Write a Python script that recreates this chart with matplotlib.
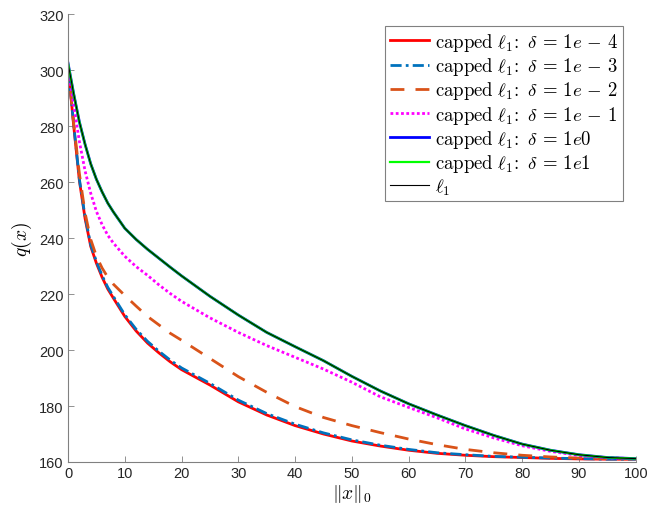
import matplotlib
matplotlib.use("Agg")
import matplotlib.pyplot as plt

plt.rcParams['mathtext.fontset'] = 'cm'
plt.rcParams['font.family'] = ['Liberation Sans', 'DejaVu Sans']

x = [0, 1, 2, 3, 4, 5, 6, 7, 8, 10, 12, 14, 16, 18, 20, 25, 30, 35, 40, 45,
     50, 55, 60, 65, 70, 75, 80, 85, 90, 95, 100]

q_1em4 = [301.5, 280, 260.5, 247, 237, 231, 226, 221.8, 218.5, 212, 206.8, 202.5,
          199, 195.8, 193, 187.5, 181.5, 176.8, 173, 170, 167.5, 165.7, 164.2,
          163.1, 162.4, 161.9, 161.6, 161.3, 161.1, 161.0, 161.0]
q_1em3 = [301.5, 280.5, 261, 247.6, 237.6, 231.6, 226.6, 222.4, 219.1, 212.6, 207.4,
          203.1, 199.6, 196.4, 193.6, 188.1, 182.1, 177.3, 173.5, 170.4, 167.9,
          166.0, 164.5, 163.3, 162.6, 162.0, 161.7, 161.4, 161.2, 161.0, 161.0]
q_1em2 = [301.5, 281, 263, 249, 239.5, 233.5, 229.3, 226, 223.5, 219.5, 215.7, 212,
          209, 206, 203.5, 197, 190.5, 184.9, 179.8, 175.9, 173, 170.5, 168.2, 166.2,
          164.5, 163.3, 162.4, 161.8, 161.4, 161.2, 161.1]
q_1em1 = [301, 287.5, 274.5, 264, 256, 249.5, 244.8, 241, 238.2, 233.5, 229.8, 226.7,
          223.3, 220.2, 217.4, 211.5, 206.3, 201.6, 197.4, 193.2, 188.5, 183.3,
          179.5, 175.8, 171.8, 168.6, 165.8, 163.8, 162.3, 161.5, 161.2]
q_1e0 = [302.5, 291.5, 281.5, 273.5, 266.5, 261, 256.5, 252.5, 249.3, 243.5, 239.5, 236,
         232.8, 229.6, 226.5, 219.2, 212.5, 206.3, 201.2, 196.2, 190.6, 185.4, 180.8,
         176.8, 173, 169.5, 166.4, 164.2, 162.6, 161.6, 161.2]
q_1e1 = list(q_1e0)
q_l1 = list(q_1e0)

labels = [r'$\mathrm{capped}\ \ell_1\!:\ \delta\, =\, 1e\,-\,4$',
          r'$\mathrm{capped}\ \ell_1\!:\ \delta\, =\, 1e\,-\,3$',
          r'$\mathrm{capped}\ \ell_1\!:\ \delta\, =\, 1e\,-\,2$',
          r'$\mathrm{capped}\ \ell_1\!:\ \delta\, =\, 1e\,-\,1$',
          r'$\mathrm{capped}\ \ell_1\!:\ \delta\, =\, 1e0$',
          r'$\mathrm{capped}\ \ell_1\!:\ \delta\, =\, 1e1$',
          r'$\ell_1$']

fig = plt.figure(figsize=(6.48, 5.06), dpi=100)
ax = fig.add_axes([0.105, 0.085, 0.876, 0.885])

ax.plot(x, q_1em4, color=(1, 0, 0), lw=2.0, ls='-', label=labels[0])
ax.plot(x, q_1em3, color=(0, 0.447, 0.741), lw=2.0, ls=(0, (4, 1.5, 1, 1.5)), label=labels[1])
ax.plot(x, q_1em2, color=(0.85, 0.325, 0.098), lw=2.0, ls=(0, (5, 4)), label=labels[2])
ax.plot(x, q_1em1, color=(1, 0, 1), lw=2.0, ls=(0, (1, 0.9)), label=labels[3])
ax.plot(x, q_1e0, color=(0, 0, 1), lw=2.0, ls='-', label=labels[4])
ax.plot(x, q_1e1, color=(0, 1, 0), lw=1.6, ls='-', label=labels[5])
ax.plot(x, q_l1, color='black', lw=0.8, ls='-', label=labels[6])

ax.set_xlim(0, 100)
ax.set_ylim(160, 320)
ax.set_xticks(range(0, 101, 10))
ax.set_yticks(range(160, 321, 20))

for s in ['top', 'right']:
    ax.spines[s].set_visible(False)
for s in ['left', 'bottom']:
    ax.spines[s].set_color('#808080')
    ax.spines[s].set_linewidth(0.8)
ax.tick_params(direction='in', length=4, width=0.6, colors='#808080',
               labelcolor='#262626', labelsize=10.5, pad=3)

ax.set_xlabel(r'$\|x\|_0$', fontsize=14, labelpad=1)
ax.set_ylabel(r'$q(x)$', fontsize=14, labelpad=4)

leg = ax.legend(loc='upper right', bbox_to_anchor=(0.977, 0.973), fontsize=13.5,
                frameon=True, fancybox=False, framealpha=1, edgecolor='#808080',
                handlelength=2.1, handletextpad=0.3, labelspacing=0.12,
                borderpad=0.25, borderaxespad=0)
leg.get_frame().set_linewidth(0.8)

fig.savefig('out.png', dpi=100)
